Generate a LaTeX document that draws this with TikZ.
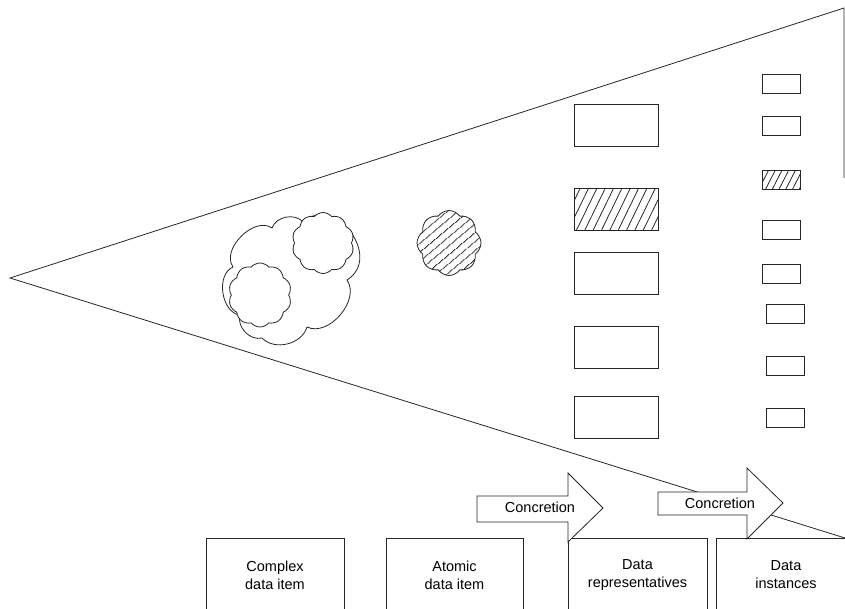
\documentclass[tikz,border=0pt]{standalone}
\usepackage{fontspec}
\setmainfont{Liberation Sans}
\usetikzlibrary{shapes.symbols,patterns.meta}
\begin{document}
\begin{tikzpicture}[x=1pt,y=-1pt,
  ln/.style={draw=black!85,line width=0.8pt},
  cloudy/.style={ln,shape=cloud,cloud puffs=#1,cloud puff arc=100,aspect=1,inner sep=0pt,fill=white},
  repbox/.style={ln,rectangle,minimum width=84pt,minimum height=42pt,inner sep=0pt},
  instbox/.style={ln,rectangle,minimum width=38pt,minimum height=19pt,inner sep=0pt},
  catbox/.style={ln,rectangle,minimum height=74pt,align=center,inner sep=0pt,font=\fontsize{14.5}{18}\selectfont},
  arrowshape/.style={ln,fill=white,line join=miter},
  lbl/.style={font=\fontsize{14.5}{18}\selectfont,inner sep=0pt},
  hatch/.style={pattern={Lines[angle=#1,distance=7.5pt,line width=0.8pt]},pattern color=black!85},
]
\useasboundingbox (0,0) rectangle (845,608);
\clip (0,0) rectangle (845,608);

% the funnel
\coordinate (apex) at (10,278);
\coordinate (topright) at (844,8);
\coordinate (rightend) at (844,178);
\coordinate (bottomright) at (845,538);
\draw[ln] (rightend) -- (topright) -- (apex) -- (bottomright);

% complex data item: outer cloud with two inner clouds
\draw[ln,fill=white] (233,267) to[bend left=80] (272,228) to[bend left=60] (303,222)
  to[bend left=95,looseness=1.5] (347,280) to[bend left=75] (307,327) to[bend left=60] (262,338)
  to[bend left=60] (240,315) to[bend left=75] (233,267) -- cycle;
\node[cloudy=10,minimum width=62pt,minimum height=61pt] (inner1) at (323,243) {};
\node[cloudy=10,minimum width=63pt,minimum height=64pt] (inner2) at (260,295) {};

% atomic data item
\node[cloudy=8,cloud puff arc=110,minimum width=64pt,minimum height=65pt,
  pattern={Lines[angle=40,distance=6.5pt,line width=0.8pt]},pattern color=black!85] (atom) at (449,243) {};

% data representatives
\node[repbox] (r1) at (616,125) {};
\node[repbox,hatch=64] (r2) at (616,209) {};
\node[repbox] (r3) at (616,273) {};
\node[repbox] (r4) at (616,347) {};
\node[repbox] (r5) at (616,417.5) {};

% data instances
\node[instbox] (i1) at (781,83.5) {};
\node[instbox] (i2) at (781,125.5) {};
\node[instbox,pattern={Lines[angle=63,distance=6pt,line width=0.8pt]},pattern color=black!85] (i3) at (781,179.5) {};
\node[instbox] (i4) at (781,230) {};
\node[instbox] (i5) at (781,273.5) {};
\node[instbox] (i6) at (785,313.5) {};
\node[instbox] (i7) at (785,365.5) {};
\node[instbox] (i8) at (785,417.5) {};

% category boxes
\node[catbox,minimum width=138pt] (complex) at (275,575) {Complex\\data item};
\node[catbox,minimum width=137pt] (atomic) at (454.5,575) {Atomic\\data item};
\node[catbox,minimum width=139pt] (reps) at (637.5,575) {Data\\representatives};
\node[catbox,minimum width=140pt] (insts) at (786,575) {Data\\instances};

% concretion arrows
\draw[arrowshape] (477,496) -- (568,496) -- (568,473) -- (603,508) -- (568,542) -- (568,522) -- (477,522) -- cycle;
\node[lbl] (conc1) at (540,507) {Concretion};
\draw[arrowshape] (658,492) -- (747,492) -- (747,468) -- (783,503) -- (747,539) -- (747,515) -- (658,515) -- cycle;
\node[lbl] (conc2) at (720,503) {Concretion};
\end{tikzpicture}
\end{document}
